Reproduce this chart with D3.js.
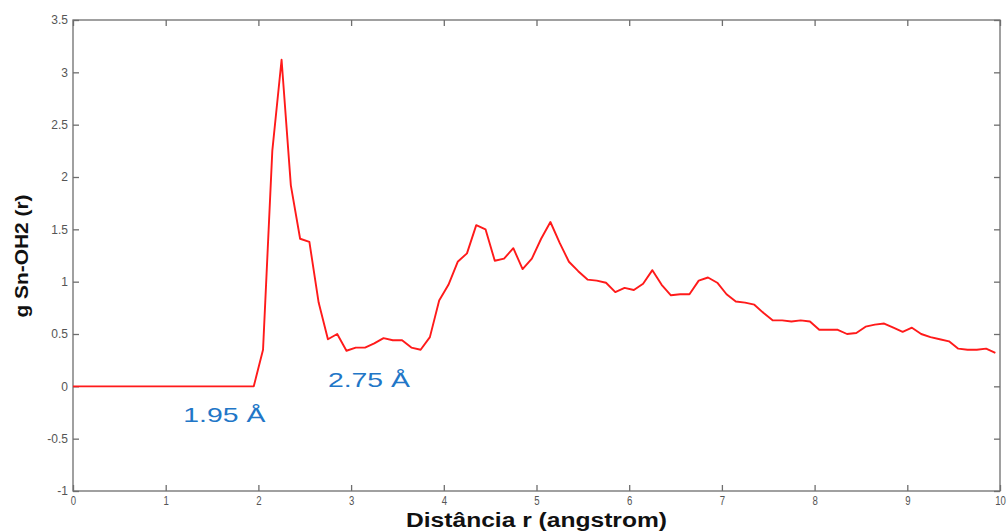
<!DOCTYPE html>
<html><head><meta charset="utf-8">
<script src="https://cdn.jsdelivr.net/npm/d3@7"></script>
<style>body{margin:0;background:#fff}svg{display:block}</style>
</head><body>
<svg id="c" width="1008" height="531"></svg>
<script>
const rValues = [0, 1.95, 2.05, 2.15, 2.25, 2.35, 2.45, 2.55, 2.65, 2.75, 2.85, 2.95,
  3.05, 3.15, 3.25, 3.35, 3.45, 3.55, 3.65, 3.75, 3.85, 3.95,
  4.05, 4.15, 4.25, 4.35, 4.45, 4.55, 4.65, 4.75, 4.85, 4.95,
  5.05, 5.15, 5.25, 5.35, 5.45, 5.55, 5.65, 5.75, 5.85, 5.95,
  6.05, 6.15, 6.25, 6.35, 6.45, 6.55, 6.65, 6.75, 6.85, 6.95,
  7.05, 7.15, 7.25, 7.35, 7.45, 7.55, 7.65, 7.75, 7.85, 7.95,
  8.05, 8.15, 8.25, 8.35, 8.45, 8.55, 8.65, 8.75, 8.85, 8.95,
  9.05, 9.15, 9.25, 9.35, 9.45, 9.55, 9.65, 9.75, 9.85, 9.95];
const gValues = [0, 0, 0.35, 2.25, 3.12, 1.92, 1.41, 1.38, 0.80, 0.45, 0.50, 0.34,
  0.37, 0.37, 0.41, 0.46, 0.44, 0.44, 0.37, 0.35, 0.47, 0.82,
  0.97, 1.19, 1.27, 1.54, 1.50, 1.20, 1.22, 1.32, 1.12, 1.22,
  1.41, 1.57, 1.37, 1.19, 1.10, 1.02, 1.01, 0.99, 0.90, 0.94,
  0.92, 0.98, 1.11, 0.97, 0.87, 0.88, 0.88, 1.01, 1.04, 0.99,
  0.88, 0.81, 0.80, 0.78, 0.70, 0.63, 0.63, 0.62, 0.63, 0.62,
  0.54, 0.54, 0.54, 0.50, 0.51, 0.57, 0.59, 0.60, 0.56, 0.52,
  0.56, 0.50, 0.47, 0.45, 0.43, 0.36, 0.35, 0.35, 0.36, 0.32];
const xTicks = [0,1,2,3,4,5,6,7,8,9,10];
const yTicks = [-1,-0.5,0,0.5,1,1.5,2,2.5,3,3.5];
const annotationTexts = ["1.95 Å", "2.75 Å"];
const annotationR = [1.19, 2.75];
const annotationG = [-0.345, -0.01];
const xTitle = "Distância r (angstrom)";
const yTitle = "g Sn-OH2 (r)";

const L=73, T=20, R=1000, B=491;
const svg = d3.select("#c");
const x = d3.scaleLinear().domain([0,10]).range([L,R]);
const y = d3.scaleLinear().domain([-1,3.5]).range([B,T]);
const axisCol = "#6e6e6e";
const tickFont = "'Liberation Sans', Arial, sans-serif";

svg.append("rect").attr("x",L).attr("y",T).attr("width",R-L).attr("height",B-T)
  .attr("fill","none").attr("stroke",axisCol).attr("stroke-width",1.3);

function styleAxis(g){
  g.select(".domain").remove();
  g.selectAll(".tick line").attr("stroke",axisCol).attr("stroke-width",1.3);
  g.selectAll(".tick text").attr("fill","#555").attr("font-family",tickFont).attr("font-size",12);
}
const fmt = d => String(d);
svg.append("g").attr("transform",`translate(0,${B})`)
  .call(d3.axisBottom(x).tickValues(xTicks).tickFormat(fmt).tickSizeInner(-6).tickSizeOuter(0).tickPadding(4))
  .call(styleAxis)
  .selectAll(".tick text").attr("transform","scale(0.8,1.1)");
svg.append("g").attr("transform",`translate(0,${T})`)
  .call(d3.axisTop(x).tickValues(xTicks).tickFormat("").tickSizeInner(-6).tickSizeOuter(0))
  .call(styleAxis);
svg.append("g").attr("transform",`translate(${L},0)`)
  .call(d3.axisLeft(y).tickValues(yTicks).tickFormat(fmt).tickSizeInner(-6).tickSizeOuter(0).tickPadding(5))
  .call(styleAxis);
svg.append("g").attr("transform",`translate(${R},0)`)
  .call(d3.axisRight(y).tickValues(yTicks).tickFormat("").tickSizeInner(-6).tickSizeOuter(0))
  .call(styleAxis);

const data = rValues.map((r,i)=>({r, g:gValues[i]}));
svg.append("path").datum(data)
  .attr("fill","none").attr("stroke","#ff1a1a").attr("stroke-width",1.9)
  .attr("stroke-linejoin","round")
  .attr("d", d3.line().x(d=>x(d.r)).y(d=>y(d.g)));

annotationTexts.forEach((t,i)=>{
  svg.append("text").attr("x", x(annotationR[i])).attr("y", y(annotationG[i]))
    .attr("font-family","Arial, 'Liberation Sans', sans-serif").attr("font-size",21)
    .attr("fill","#2176c7")
    .attr("textLength",82).attr("lengthAdjust","spacingAndGlyphs")
    .text(t);
});

svg.append("text").attr("x",(L+R)/2).attr("y",527).attr("text-anchor","middle")
  .attr("font-family","'Liberation Sans Narrow', 'Arial Narrow', 'Liberation Sans', Arial, sans-serif")
  .attr("font-weight","bold").attr("font-size",20).attr("fill","#111")
  .attr("textLength",261).attr("lengthAdjust","spacingAndGlyphs").text(xTitle);
svg.append("text").attr("transform",`translate(28,256) rotate(-90)`).attr("text-anchor","middle")
  .attr("font-family","'Liberation Sans', Arial, sans-serif")
  .attr("font-weight","bold").attr("font-size",19).attr("fill","#111")
  .attr("textLength",123).attr("lengthAdjust","spacingAndGlyphs")
  .text(yTitle);
</script>
</body></html>
